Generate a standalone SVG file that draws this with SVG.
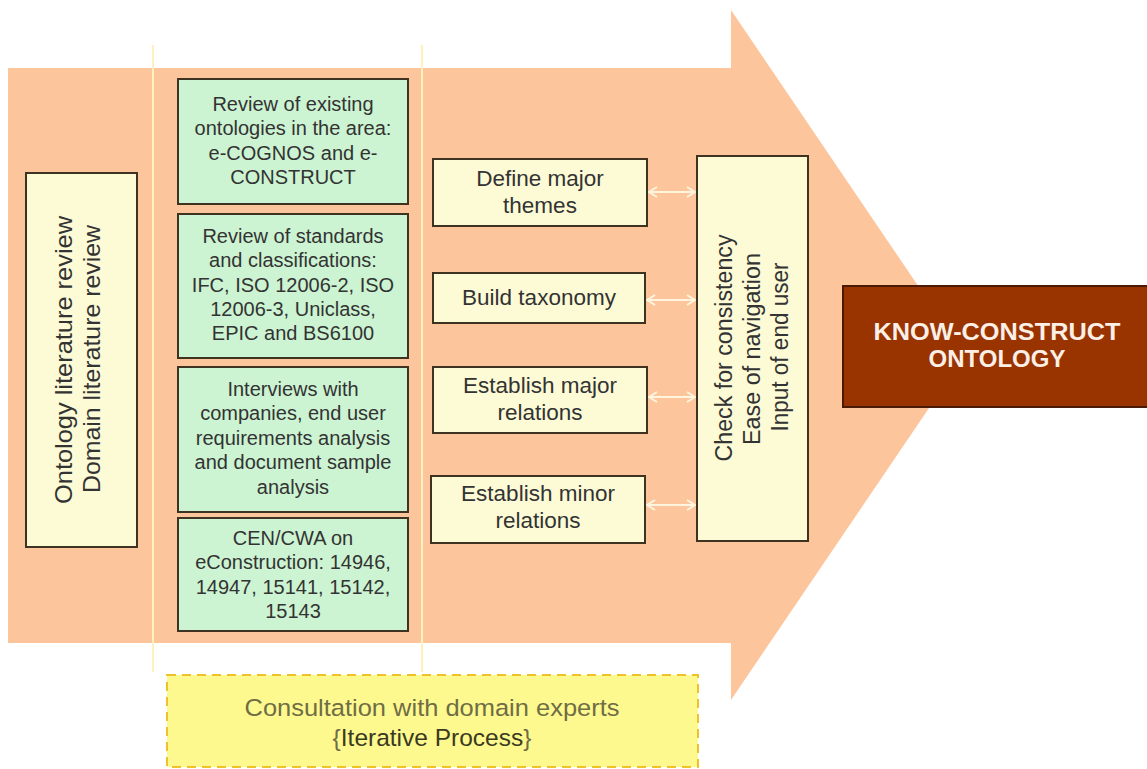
<svg xmlns="http://www.w3.org/2000/svg" width="1147" height="769" viewBox="0 0 1147 769">
  <defs>
    <style>
      .txt { font-family: "Liberation Sans", Arial, sans-serif; fill: #333333; text-anchor: middle; }
      .green { fill: #ccf3d2; stroke: #3e3220; stroke-width: 2; }
      .cream { fill: #fdfbd6; stroke: #3e3220; stroke-width: 2; }
      .g20 { font-size: 20px; }
      .r22 { font-size: 22.5px; }
      .v23 { font-size: 23px; }
      .guide { stroke: #fff1bf; stroke-width: 2; fill: none; }
      .link { stroke: #fff5df; stroke-width: 2; fill: none; marker-start: url(#chev); marker-end: url(#chev); }
    </style>
    <marker id="chev" viewBox="0 0 10 12" refX="9" refY="6" markerWidth="10" markerHeight="12" markerUnits="userSpaceOnUse" orient="auto-start-reverse">
      <path d="M1,1 L9,6 L1,11" fill="none" stroke="#fff5df" stroke-width="2"/>
    </marker>
  </defs>

  <rect width="1147" height="769" fill="#ffffff"/>

  <!-- big process arrow -->
  <polygon id="process-arrow" points="8,68 731,68 731,10 965,355 731,700 731,643 8,643" fill="#fcc59c"/>

  <!-- phase separators -->
  <line class="guide" x1="153" y1="45" x2="153" y2="672"/>
  <line class="guide" x1="422" y1="45" x2="422" y2="672"/>

  <!-- literature review -->
  <g id="literature-review">
    <rect class="cream" x="26" y="173" width="111" height="374"/>
    <text class="txt" font-size="24" transform="translate(72,360) rotate(-90)" textLength="288" lengthAdjust="spacingAndGlyphs">Ontology literature review</text>
    <text class="txt" font-size="24" transform="translate(100,359) rotate(-90)" textLength="268" lengthAdjust="spacingAndGlyphs">Domain literature review</text>
  </g>

  <!-- knowledge sources -->
  <g id="existing-ontologies">
    <rect class="green" x="178" y="79" width="230" height="125"/>
    <text class="txt g20" x="293" y="111">Review of existing</text>
    <text class="txt g20" x="293" y="135">ontologies in the area:</text>
    <text class="txt g20" x="293" y="160">e-COGNOS and e-</text>
    <text class="txt g20" x="293" y="184">CONSTRUCT</text>
  </g>
  <g id="standards">
    <rect class="green" x="178" y="214" width="230" height="144"/>
    <text class="txt g20" x="293" y="243">Review of standards</text>
    <text class="txt g20" x="293" y="267">and classifications:</text>
    <text class="txt g20" x="293" y="292">IFC, ISO 12006-2, ISO</text>
    <text class="txt g20" x="293" y="316">12006-3, Uniclass,</text>
    <text class="txt g20" x="293" y="340">EPIC and BS6100</text>
  </g>
  <g id="interviews">
    <rect class="green" x="178" y="367" width="230" height="145"/>
    <text class="txt g20" x="293" y="396">Interviews with</text>
    <text class="txt g20" x="293" y="420">companies, end user</text>
    <text class="txt g20" x="293" y="445">requirements analysis</text>
    <text class="txt g20" x="293" y="469">and document sample</text>
    <text class="txt g20" x="293" y="494">analysis</text>
  </g>
  <g id="cen-cwa">
    <rect class="green" x="178" y="518" width="230" height="113"/>
    <text class="txt g20" x="293" y="545">CEN/CWA on</text>
    <text class="txt g20" x="293" y="569">eConstruction: 14946,</text>
    <text class="txt g20" x="293" y="594">14947, 15141, 15142,</text>
    <text class="txt g20" x="293" y="618">15143</text>
  </g>

  <!-- construction steps -->
  <g id="define-themes">
    <rect class="cream" x="433" y="159" width="214" height="67"/>
    <text class="txt r22" x="540" y="186">Define major</text>
    <text class="txt r22" x="540" y="213">themes</text>
  </g>
  <g id="build-taxonomy">
    <rect class="cream" x="433" y="273" width="212" height="50"/>
    <text class="txt r22" x="539" y="305">Build taxonomy</text>
  </g>
  <g id="major-relations">
    <rect class="cream" x="433" y="367" width="214" height="66"/>
    <text class="txt r22" x="540" y="393">Establish major</text>
    <text class="txt r22" x="540" y="420">relations</text>
  </g>
  <g id="minor-relations">
    <rect class="cream" x="431" y="476" width="214" height="67"/>
    <text class="txt r22" x="538" y="501">Establish minor</text>
    <text class="txt r22" x="538" y="528">relations</text>
  </g>

  <!-- evaluation -->
  <g id="checks">
    <rect class="cream" x="697" y="156" width="111" height="385"/>
    <text class="txt v23" transform="translate(732,348) rotate(-90)" textLength="227" lengthAdjust="spacingAndGlyphs">Check for consistency</text>
    <text class="txt v23" transform="translate(760,349) rotate(-90)" textLength="192" lengthAdjust="spacingAndGlyphs">Ease of navigation</text>
    <text class="txt v23" transform="translate(788,347) rotate(-90)" textLength="169" lengthAdjust="spacingAndGlyphs">Input of end user</text>
  </g>

  <g id="connectors">
    <line class="link" x1="649" y1="192" x2="695" y2="192"/>
    <line class="link" x1="647" y1="300" x2="695" y2="300"/>
    <line class="link" x1="649" y1="397" x2="695" y2="397"/>
    <line class="link" x1="647" y1="505" x2="695" y2="505"/>
  </g>

  <!-- result -->
  <g id="know-construct-ontology">
    <rect x="843" y="286" width="320" height="121" fill="#993300" stroke="#4a1a05" stroke-width="2"/>
    <text class="txt" x="997" y="340" font-size="24" font-weight="bold" fill="#fbefe6" style="fill:#fbefe6" textLength="247" lengthAdjust="spacingAndGlyphs">KNOW-CONSTRUCT</text>
    <text class="txt" x="997" y="367" font-size="24" font-weight="bold" style="fill:#fbefe6">ONTOLOGY</text>
  </g>

  <!-- consultation -->
  <g id="consultation">
    <rect x="167" y="675" width="531" height="92" fill="#fef98e" stroke="#efc12a" stroke-width="2" stroke-dasharray="9 6"/>
    <text class="txt" x="432" y="716" font-size="24.5" style="fill:#6f6d45" textLength="375" lengthAdjust="spacingAndGlyphs">Consultation with domain experts</text>
    <text class="txt" x="432" y="746" font-size="24.5" style="fill:#6f6d45">{<tspan style="fill:#3a3a22">Iterative Process</tspan>}</text>
  </g>
</svg>
